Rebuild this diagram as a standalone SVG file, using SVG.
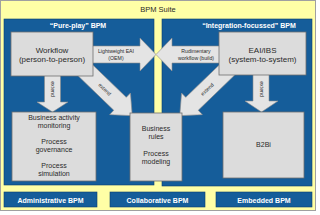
<svg xmlns="http://www.w3.org/2000/svg" width="320" height="215" viewBox="0 0 320 215">
<style>
.panel{fill:#155d9a;stroke:#0d3f6e;stroke-width:0.6}
.box{fill:#dcdcdc;stroke:#6f6f6f;stroke-width:0.8}
.arr{fill:#e4e4e4;stroke:#8a8a8a;stroke-width:0.6}
.t{font-family:"Liberation Sans",Arial,sans-serif;fill:#2a2a2a;text-anchor:middle}
.w{font-family:"Liberation Sans",Arial,sans-serif;fill:#ffffff;font-weight:bold;text-anchor:middle}
.bar{fill:#155d9a;stroke:#0d3f6e;stroke-width:0.6}
</style>
<rect x="0.5" y="0.5" width="315" height="210" fill="#ffffa6" stroke="#a0a0a0" stroke-width="1"/>
<text class="t" x="158" y="12" font-size="7.5">BPM Suite</text>
<g id="pureplay">
<rect class="panel" x="4" y="19" width="150" height="166"/>
<text class="w" x="78" y="28" font-size="7">“Pure-play” BPM</text>
</g>
<g id="integration">
<rect class="panel" x="162" y="19" width="150" height="167"/>
<text class="w" x="249" y="28" font-size="7">“Integration-focussed” BPM</text>
</g>
<g id="connectors">
<g id="e1">
<polygon class="arr" points="90,46 140,46 140,38 156,54.5 140,71 140,63 90,63"/>
<text class="t" font-size="5.2" x="116" y="53">Lightweight EAI</text>
<text class="t" font-size="5.2" x="116" y="60">(OEM)</text>
</g>
<g id="e2">
<polygon class="arr" points="222,46 172,46 172,38 156,54.5 172,71 172,63 222,63"/>
<text class="t" font-size="5.2" x="196" y="53">Rudimentary</text>
<text class="t" font-size="5.2" x="196" y="60">workflow (build)</text>
</g>
<g id="e3">
<polygon class="arr" points="44.5,72 60.5,72 60.5,102 68,102 52.5,112 37,102 44.5,102"/>
<text class="t" font-size="5.2" transform="translate(50.5,89) rotate(90)">extend</text>
</g>
<g id="e4">
<polygon class="arr" points="253,72 269,72 269,101 278,101 261.5,112 245,101 253,101"/>
<text class="t" font-size="5.2" transform="translate(259.5,89) rotate(90)">extend</text>
</g>
<g id="e5" transform="translate(85.5,70.5) rotate(44)">
<polygon class="arr" points="-6,-9 48,-9 48,-15 65,0 48,15 48,9 -6,9"/>
<text class="t" font-size="5.2" x="27" y="2">extend</text>
</g>
<g id="e6" transform="translate(226.5,70.5) rotate(136)">
<polygon class="arr" points="-6,-9 48,-9 48,-15 65,0 48,15 48,9 -6,9"/>
<text class="t" font-size="5.2" transform="translate(27,0) rotate(180)" y="2">extend</text>
</g>
</g>
<g id="workflow">
<rect class="box" x="11" y="32" width="82" height="44"/>
<text class="t" x="52" y="53" font-size="8">Workflow</text>
<text class="t" x="52" y="62" font-size="8">(person-to-person)</text>
</g>
<g id="eai">
<rect class="box" x="219" y="32" width="87" height="43"/>
<text class="t" x="262.5" y="53" font-size="8">EAI/IBS</text>
<text class="t" x="262.5" y="62" font-size="8">(system-to-system)</text>
</g>
<g id="bam">
<rect class="box" x="12" y="112" width="84" height="69"/>
<text class="t" x="54" y="120" font-size="7">Business activity</text>
<text class="t" x="54" y="128" font-size="7">monitoring</text>
<text class="t" x="54" y="144" font-size="7">Process</text>
<text class="t" x="54" y="152" font-size="7">governance</text>
<text class="t" x="54" y="168" font-size="7">Process</text>
<text class="t" x="54" y="176" font-size="7">simulation</text>
</g>
<g id="rules">
<rect class="box" x="130" y="113" width="52" height="68"/>
<text class="t" x="156" y="131" font-size="7">Business</text>
<text class="t" x="156" y="139" font-size="7">rules</text>
<text class="t" x="156" y="156" font-size="7">Process</text>
<text class="t" x="156" y="164" font-size="7">modeling</text>
</g>
<g id="b2bi">
<rect class="box" x="223" y="112" width="81" height="66"/>
<text class="t" x="263.5" y="147" font-size="7">B2Bi</text>
</g>
<g id="admin">
<rect class="bar" x="4" y="192" width="93" height="15"/>
<text class="w" x="50.5" y="202.5" font-size="7">Administrative BPM</text>
</g>
<g id="collab">
<rect class="bar" x="110" y="192" width="95" height="15"/>
<text class="w" x="157.5" y="202.5" font-size="7">Collaborative BPM</text>
</g>
<g id="embedded">
<rect class="bar" x="216" y="192" width="96" height="15"/>
<text class="w" x="264" y="202.5" font-size="7">Embedded BPM</text>
</g>
</svg>
